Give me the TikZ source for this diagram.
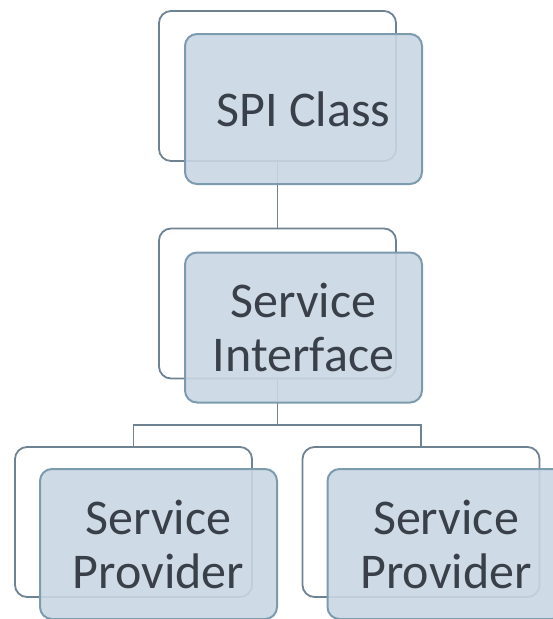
\documentclass[tikz,border=0pt]{standalone}
\usepackage{fontspec}
\setmainfont{Carlito}
\usepackage{xcolor}
\usepackage{tikz}
\usetikzlibrary{positioning}

\definecolor{cardfill}{HTML}{C9D7E3}
\definecolor{cardedge}{HTML}{7C9BAE}
\definecolor{backedge}{HTML}{6E8292}
\definecolor{cardtext}{HTML}{3A4049}

\tikzset{
  cardback/.style={draw=backedge,line width=1.8pt,fill=white,rounded corners=12pt,
    minimum width=237pt,minimum height=150pt,inner sep=0pt},
  cardfront/.style={draw=cardedge,line width=2pt,fill=cardfill,fill opacity=0.9,
    text opacity=1,rounded corners=12pt,minimum width=237pt,minimum height=150pt,
    inner sep=0pt,align=center,text=cardtext,font=\fontsize{50}{54}\selectfont},
  link/.style={draw=backedge,line width=1.8pt}
}

\begin{document}
\begin{tikzpicture}[x=1pt,y=-1pt]
  \useasboundingbox (0,0) rectangle (553,619);
  % back cards
  \node[cardback] (spiBack)   at (277.5,86)  {};
  \node[cardback] (ifBack)    at (277.5,303.5) {};
  \node[cardback] (provLBack) at (133.5,522) {};
  \node[cardback] (provRBack) at (421,522)   {};
  % connectors
  \coordinate (fork) at (277.5,425);
  \draw[link] (spiBack.south) -- (ifBack.north);
  \draw[link] (ifBack.south) -- (fork) -| (provLBack.north);
  \draw[link] (fork) -| (provRBack.north);
  % front cards
  \node[cardfront] (spiFront)   at (303.5,109)   {SPI Class};
  \node[cardfront] (ifFront)    at (303.5,327.5) {Service\\Interface};
  \node[cardfront] (provLFront) at (158.5,544)   {Service\\Provider};
  \node[cardfront] (provRFront) at (446,544)     {Service\\Provider};
\end{tikzpicture}
\end{document}
